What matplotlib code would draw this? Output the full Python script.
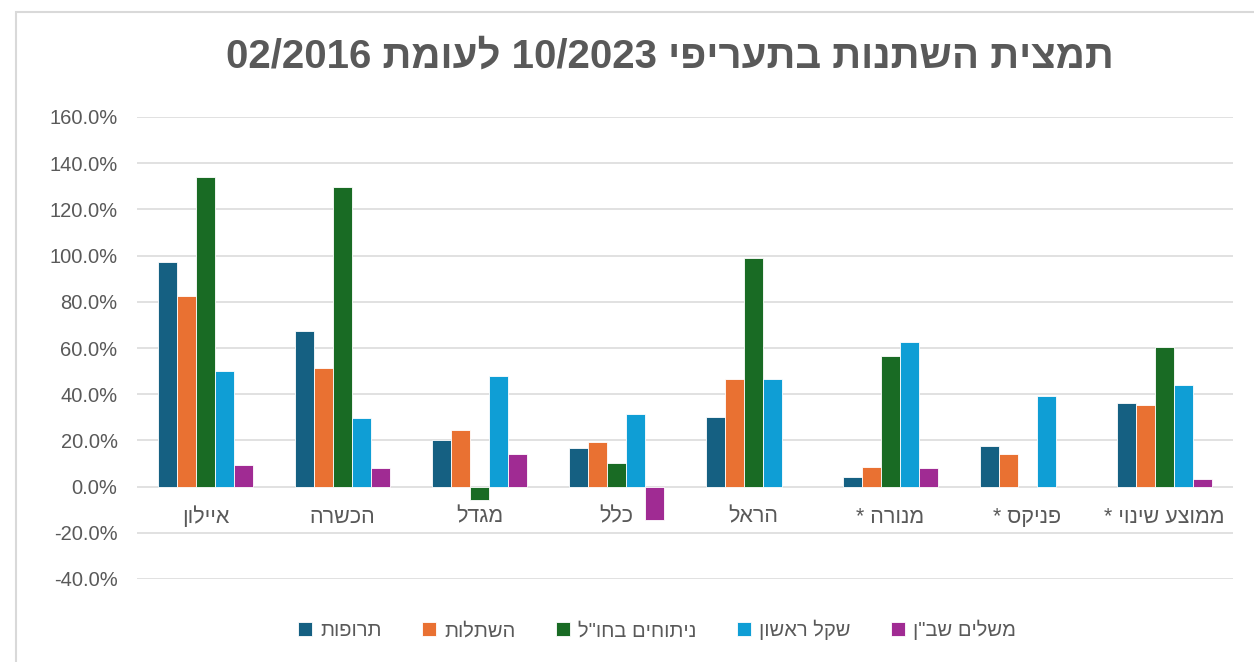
import re
import numpy as np
import matplotlib
matplotlib.use("Agg")
import matplotlib.pyplot as plt
from matplotlib.patches import Rectangle

plt.rcParams["font.family"] = ["Liberation Sans", "DejaVu Sans"]

# data (percent change)
companies = ["איילון", "הכשרה", "מגדל", "כלל", "הראל", "מנורה *", "פניקס *", "ממוצע שינוי *"]
series_names = ["תרופות", "השתלות", 'ניתוחים בחו"ל', "שקל ראשון", 'משלים שב"ן']
drugs = [97.2, 67.5, 20.3, 16.9, 30.2, 4.2, 17.5, 36.3]
transplants = [82.5, 51.2, 24.6, 19.1, 46.5, 8.7, 14.3, 35.3]
surgery_abroad = [134.0, 129.6, -5.8, 10.4, 99.0, 56.4, np.nan, 60.3]
first_shekel = [49.9, 29.8, 47.7, 31.4, 46.5, 62.5, 39.2, 43.8]
shaban = [9.5, 8.2, 14.1, -14.4, np.nan, 8.0, np.nan, 3.5]

colors = ["#156082", "#E97132", "#196B24", "#0F9ED5", "#A02B93"]
title = "תמצית השתנות בתעריפי 10/2023 לעומת 02/2016"


def rtl(s):
    # reverse for right-to-left display, keep number runs in order
    return re.sub(r"[0-9/.]+", lambda m: m.group()[::-1], s[::-1])


fig = plt.figure(figsize=(12.54, 6.62), dpi=100)
ax = fig.add_axes([137 / 1254, 1 - 579 / 662, 1096 / 1254, 462 / 662])

x = np.arange(len(companies))
w = 0.139
all_series = [drugs, transplants, surgery_abroad, first_shekel, shaban]
for i, (vals, c, name) in enumerate(zip(all_series, colors, series_names)):
    ax.bar(x + (i - 2) * w, vals, width=w, color=c, edgecolor="white",
           linewidth=0.6, label=rtl(name), zorder=3)

ax.set_xlim(-0.5, len(companies) - 0.5)
ax.set_ylim(-40, 160)
ax.set_yticks(np.arange(-40, 161, 20))
ax.set_yticklabels([f"{v:.1f}%" for v in np.arange(-40, 161, 20)])
ax.tick_params(axis="y", length=0, pad=14, labelsize=14.5, labelcolor="#595959")
ax.set_xticks([])
ax.grid(axis="y", color="#D9D9D9", linewidth=1.1, zorder=0)
for s in ax.spines.values():
    s.set_visible(False)

for xi, name in zip(x, companies):
    ax.annotate(rtl(name), (xi, 0), xytext=(0, -22), textcoords="offset points",
                ha="center", va="center", fontsize=15.5, color="#595959")

fig.text(670 / 1254, 1 - 57 / 662, rtl(title), ha="center", va="center",
         fontsize=29, fontweight="bold", color="#595959")

ax.legend(loc="center", bbox_to_anchor=(657 / 1254, 1 - 630 / 662),
          bbox_transform=fig.transFigure, ncol=5, frameon=False, fontsize=14.5,
          handlelength=0.7, handleheight=0.7, handletextpad=0.4,
          columnspacing=2.0, labelcolor="#595959")

fig.patches.append(Rectangle((16 / 1254, -0.1), 1.2, 1.1 - 12 / 662,
                             transform=fig.transFigure, fill=False,
                             edgecolor="#D9D9D9", linewidth=1.5))

fig.savefig("out.png", dpi=100)
